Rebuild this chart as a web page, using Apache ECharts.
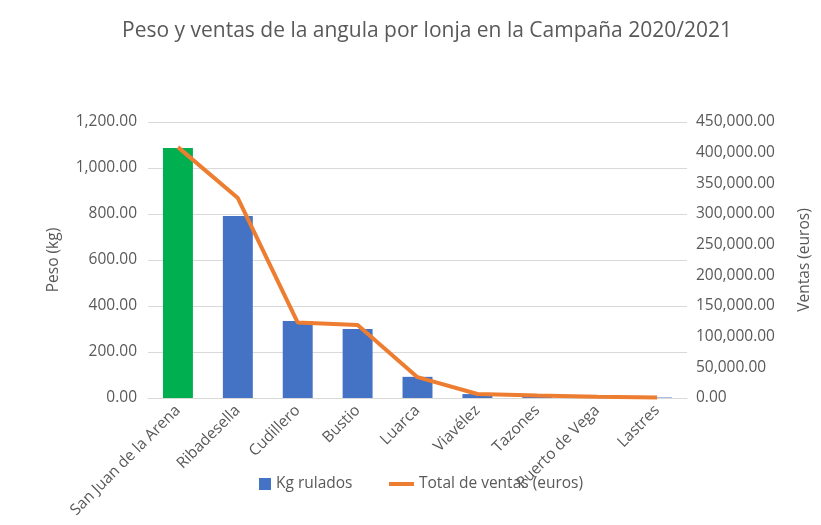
<!DOCTYPE html>
<html>
<head>
<meta charset="utf-8">
<script src="https://cdn.jsdelivr.net/npm/echarts@6/dist/echarts.min.js"></script>
<style>
  html, body { margin: 0; padding: 0; background: #fff; }
  #chart { width: 821px; height: 525px; }
</style>
</head>
<body>
<div id="chart"></div>
<script>
// lonjas
const lonjas = ['San Juan de la Arena', 'Ribadesella', 'Cudillero', 'Bustio', 'Luarca',
  'Viavélez', 'Tazones', 'Puerto de Vega', 'Lastres'];
// Kg rulados
const kgRulados = [1087, 791, 335, 300, 92, 17, 9, 4, 2];
// Total de ventas (euros)
const ventas = [409000, 326000, 123000, 119000, 34000, 6500, 4000, 2000, 800];
const destacado = 0; // la barra verde

const fmt = (v) => v.toLocaleString('en-US', { minimumFractionDigits: 2, maximumFractionDigits: 2 });
const txt = '#595959';
const font = 'Open Sans';
const legendText = { color: txt, fontSize: 15.5, fontFamily: font };

const chart = echarts.init(document.getElementById('chart'), null, { renderer: 'canvas' });

chart.setOption({
  backgroundColor: '#fff',
  animation: false,
  textStyle: { fontFamily: font },
  title: {
    text: 'Peso y ventas de la angula por lonja en la Campaña 2020/2021',
    left: 422,
    textAlign: 'center',
    top: 16,
    textStyle: { fontSize: 21, fontWeight: 'normal', color: txt, fontFamily: font }
  },
  grid: { left: 148, right: 124, top: 122, bottom: 127 },
  // two legends so each icon gets its own size
  legend: [
    {
      bottom: 28,
      left: 254,
      itemWidth: 12,
      itemHeight: 12,
      textStyle: legendText,
      data: [{ name: 'Kg rulados', icon: 'rect' }]
    },
    {
      bottom: 28,
      left: 384,
      itemWidth: 25,
      itemHeight: 12,
      textStyle: legendText,
      data: [{ name: 'Total de ventas (euros)', icon: 'path://M0,0 L25,0 L25,4 L0,4 Z' }]
    }
  ],
  xAxis: {
    type: 'category',
    data: lonjas,
    axisLine: { lineStyle: { color: '#d9d9d9' } },
    axisTick: { show: false },
    axisLabel: { rotate: 45, color: txt, fontSize: 15.5, interval: 0, margin: 10 }
  },
  yAxis: [
    {
      type: 'value',
      min: 0, max: 1200, interval: 200,
      name: 'Peso (kg)',
      nameLocation: 'middle',
      nameGap: 86,
      nameTextStyle: { color: txt, fontSize: 15.5 },
      axisLabel: { formatter: fmt, color: txt, fontSize: 15.5, margin: 11 },
      splitLine: { lineStyle: { color: '#d9d9d9' } },
      axisLine: { show: false },
      axisTick: { show: false }
    },
    {
      type: 'value',
      min: 0, max: 450000, interval: 50000,
      name: 'Ventas (euros)',
      nameLocation: 'middle',
      nameGap: 110,
      nameRotate: 90,
      nameTextStyle: { color: txt, fontSize: 15.5 },
      axisLabel: { formatter: fmt, color: txt, fontSize: 15.5, margin: 9 },
      splitLine: { show: false },
      axisLine: { show: false },
      axisTick: { show: false }
    }
  ],
  series: [
    {
      name: 'Kg rulados',
      type: 'bar',
      yAxisIndex: 0,
      barWidth: '50%',
      itemStyle: { color: '#4472C4' },
      data: kgRulados.map((v, i) => i === destacado ? { value: v, itemStyle: { color: '#00B050' } } : v)
    },
    {
      name: 'Total de ventas (euros)',
      type: 'line',
      yAxisIndex: 1,
      symbol: 'none',
      lineStyle: { color: '#ED7D31', width: 4 },
      itemStyle: { color: '#ED7D31' },
      data: ventas
    }
  ]
});
</script>
</body>
</html>
